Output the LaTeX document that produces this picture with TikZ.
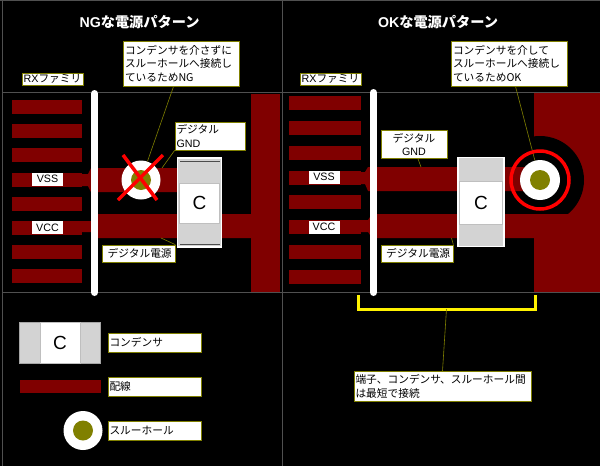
\documentclass[tikz,border=0pt]{standalone}
\usepackage{fontspec}
\setmainfont{Liberation Sans}
\newfontfamily\cjk{Noto Sans CJK JP}
\newcommand{\jp}[1]{{\cjk #1}}
\usetikzlibrary{positioning}
\definecolor{pcbred}{HTML}{800000}
\definecolor{viaolive}{HTML}{808000}
\definecolor{capgray}{HTML}{D3D3D3}
\definecolor{gridgray}{HTML}{505050}
\tikzset{
    tag/.style={draw=viaolive, fill=white, text=black, line width=0.7pt, inner sep=1.5pt, align=left, font=\fontsize{10.7}{13.5}\selectfont},
    pintag/.style={tag, draw=none, align=center, minimum width=31pt, minimum height=13pt, inner sep=0pt},
    leader/.style={draw=viaolive, line width=0.6pt},
    trace/.style={fill=pcbred},
    gridline/.style={draw=gridgray, line width=0.8pt},
    heading/.style={text=white, font=\fontsize{14.2}{16}\selectfont\bfseries},
    via/.style={circle, fill=white, inner sep=0pt, minimum size=39pt},
    viahole/.style={circle, fill=viaolive, inner sep=0pt, minimum size=20pt},
    capbody/.style={fill=capgray, draw=white, line width=1.5pt, inner sep=0pt},
    capface/.style={fill=white, draw=black!25, line width=0.6pt, inner sep=0pt, font=\fontsize{19}{21}\selectfont},
    busbar/.style={draw=white, line width=7pt, line cap=round},
}
\begin{document}
\begin{tikzpicture}[x=1pt, y=-1pt]
    \useasboundingbox (0,0) rectangle (600,466);
    \fill[black] (0,0) rectangle (600,466);
    \draw[gridline] (0,0.4) -- (600,0.4);
    \draw[gridline] (2.4,0) -- (2.4,466);
    \draw[gridline] (282.5,0) -- (282.5,466);
    \draw[gridline] (2,92.5) -- (600,92.5);
    \draw[gridline] (2,292.5) -- (600,292.5);

    \node[heading] (titleNG) at (139.5,22) {NG\jp{な電源パターン}};
    \node[heading] (titleOK) at (438,22) {OK\jp{な電源パターン}};

    \foreach \y in {100,124,148,173,197,221,245,269} {
        \fill[trace] (12,\y) rectangle (82,\y+14);
    }
    \fill[trace] (82,174) -- (88,174) -- (91,168) -- (98,168) -- (177,168) -- (177,192) -- (98,192) -- (91,192) -- (88,186) -- (82,186) -- cycle;
    \fill[trace] (82,221) -- (91,221) -- (98,214) -- (251,214) -- (251,238) -- (98,238) -- (91,232) -- (82,232) -- cycle;
    \fill[trace] (251,94) rectangle (280,292);
    \draw[busbar] (94.5,93.5) -- (94.5,292.5);

    \node[capbody, minimum width=44pt, minimum height=89pt] (capNG) at (199.5,202.5) {};
    \draw[black!70, line width=1pt] (180,161.5) -- (220,161.5);
    \draw[black!70, line width=1pt] (180,244.5) -- (220,244.5);
    \node[capface, minimum width=40.5pt, minimum height=40pt] (capfaceNG) at (199.5,203) {C};

    \node[via] (viaNG) at (141,180) {};
    \node[viahole] (holeNG) at (viaNG) {};

    \node[tag, text width=113pt, minimum height=45pt] (msgNG) at (181.5,63.5) {\jp{コンデンサを介さずに}\\\jp{スルーホールへ接続し}\\\jp{ているためNG}};
    \node[tag, text width=67pt, minimum height=28pt] (gndNG) at (210,136) {\jp{デジタル}\\GND};
    \node[tag, minimum width=73pt, minimum height=17pt, align=center] (powerNG) at (138.5,253.5) {\jp{~デジタル電源}};
    \node[tag, minimum width=61pt, minimum height=12pt, inner sep=0.5pt] (rxNG) at (52.5,79) {RX\jp{ファミリ}};
    \node[pintag] (vssNG) at (47.5,179) {VSS};
    \node[pintag] (vccNG) at (47.5,227.5) {VCC};

    \coordinate (gndNGend) at (162,168);
    \coordinate (powerNGend) at (161,238);
    \draw[leader] (msgNG) -- (viaNG);
    \draw[leader] (gndNG.south west) -- (gndNGend);
    \draw[leader] (powerNG.north east) -- (powerNGend);
    \draw[red, line width=3.5pt] (123,155) -- (157,200);
    \draw[red, line width=3.5pt] (163,155) -- (118,200);

    \fill[pcbred] (534,93) rectangle (600,292);
    \begin{scope}
        \clip (480,93) rectangle (600,214);
        \fill[black] (540,180) circle (44pt);
    \end{scope}
    \foreach \y in {96,121,146,171,195,220,245,270} {
        \fill[trace] (289,\y) rectangle (361,\y+13.5);
    }
    \fill[trace] (361,172) -- (365,172) -- (368,167) -- (377,167) -- (525,167) -- (525,191) -- (377,191) -- (368,191) -- (365,184) -- (361,184) -- cycle;
    \fill[trace] (361,220) -- (368,220) -- (372,214) -- (568,214) -- (568,238) -- (372,238) -- (368,232) -- (361,232) -- cycle;
    \draw[busbar] (373.5,92.5) -- (373.5,292.5);

    \node[capbody, minimum width=46pt, minimum height=89pt] (capOK) at (481,202) {};
    \node[capface, minimum width=43pt, minimum height=43pt] (capfaceOK) at (481,202.5) {C};

    \node[via, minimum size=40pt] (viaOK) at (540,180) {};
    \node[viahole] (holeOK) at (viaOK) {};

    \node[tag, text width=113pt, minimum height=45pt] (msgOK) at (509.5,63.5) {\jp{コンデンサを介して}\\\jp{スルーホールへ接続し}\\\jp{ているためOK}};
    \node[tag, minimum width=66pt, minimum height=28pt, align=center] (gndOK) at (414,144.5) {\jp{デジタル}\\GND};
    \node[tag, minimum width=72pt, minimum height=17pt, align=center] (powerOK) at (417,253.5) {\jp{~デジタル電源}};
    \node[tag, minimum width=61pt, minimum height=12pt, inner sep=0.5pt] (rxOK) at (330.5,79) {RX\jp{ファミリ}};
    \node[pintag] (vssOK) at (324,177) {VSS};
    \node[pintag] (vccOK) at (324,227) {VCC};

    \coordinate (gndOKend) at (421,167);
    \coordinate (powerOKend) at (451.5,238);
    \draw[leader] (msgOK) -- (viaOK);
    \draw[leader] (gndOK.south) ++(4,0) -- (gndOKend);
    \draw[leader] (powerOK.north east) -- (powerOKend);
    \draw[red, line width=3.5pt] (viaOK) circle (29pt);

    \coordinate (bracketL) at (358,295);
    \coordinate (bracketR) at (535,295);
    \coordinate (bracketM) at (446.5,309);
    \draw[yellow, line width=3pt] (bracketL) -- (358,309) -- (535,309) -- (bracketR);
    \node[tag, text width=174pt, minimum height=30pt] (msgShort) at (442.5,386.5) {\jp{端子、コンデンサ、スルーホール間}\\\jp{は最短で接続}};
    \draw[leader] (bracketM) -- (msgShort.north);

    \node[capbody, draw=black!35, line width=0.6pt, minimum width=81pt, minimum height=41pt] (capKey) at (59.5,342.5) {};
    \node[capface, minimum width=40pt, minimum height=41pt] (capfaceKey) at (60,342.5) {C};
    \fill[trace] (19.5,380) rectangle (100.5,393);
    \node[via] (viaKey) at (83,430.5) {};
    \node[viahole] (holeKey) at (viaKey) {};

    \node[tag, text width=90pt, minimum height=19pt] (labelCap) at (154.5,342.5) {\jp{コンデンサ}};
    \node[tag, text width=90pt, minimum height=19pt] (labelTrace) at (154.5,386.5) {\jp{配線}};
    \node[tag, text width=90pt, minimum height=19pt] (labelVia) at (154.5,430.5) {\jp{スルーホール}};
\end{tikzpicture}
\end{document}
